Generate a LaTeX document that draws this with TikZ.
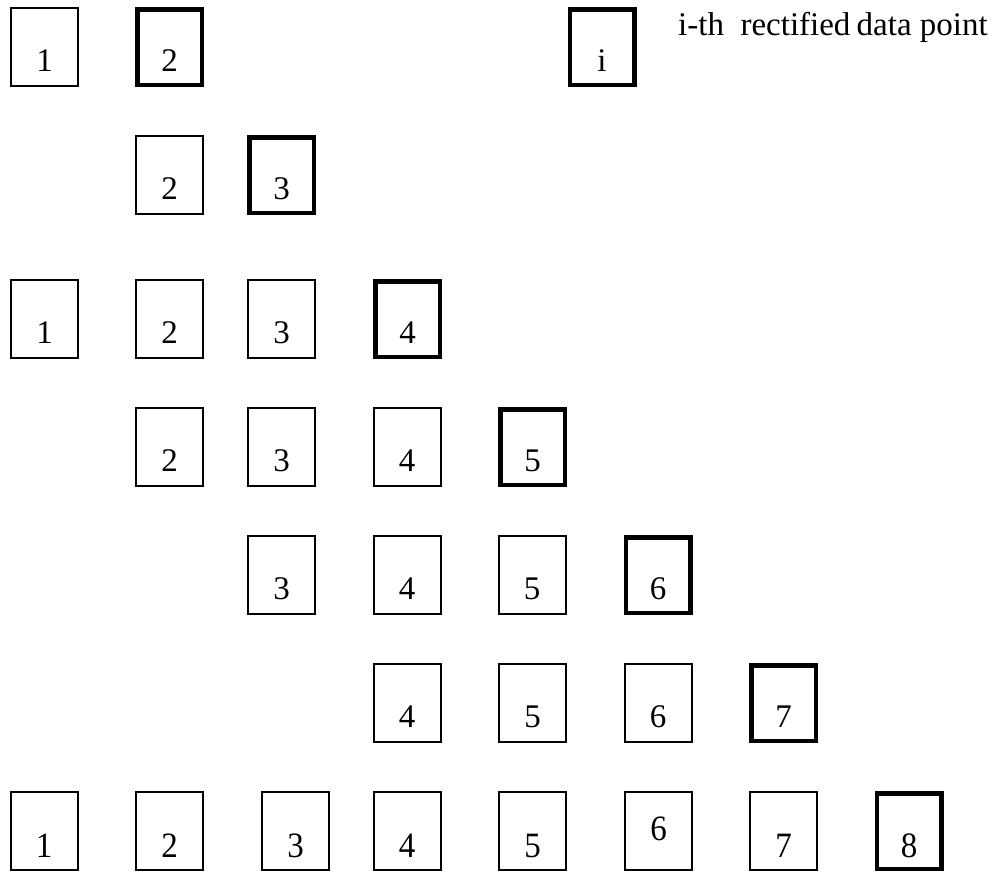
\documentclass[tikz,border=0pt]{standalone}
\usepackage{fontspec}
\setmainfont{Liberation Serif}
\begin{document}
\begin{tikzpicture}[x=1pt,y=-1pt,
  cell/.style={draw, line width=2pt, inner sep=0pt, minimum width=67pt, minimum height=78pt},
  hcell/.style={draw, line width=4.5pt, inner sep=0pt, minimum width=64.5pt, minimum height=75.5pt},
  dig/.style={font=\fontsize{33}{33}\selectfont, anchor=base, inner sep=0pt},
  bdig/.style={dig, yscale=1.08, transform shape},
  legtext/.style={font=\fontsize{33}{33}\selectfont, anchor=base west, inner sep=0pt}]
\useasboundingbox (0,0) rectangle (994,871);
% row 1 (y center 47)
\node[cell]  (r1c1) at (44.5,47) {};  \node[dig] (t1c1) at ([yshift=-24pt]r1c1.center) {1};
\node[hcell] (r1c2) at (169.5,47) {}; \node[dig] (t1c2) at ([yshift=-24pt]r1c2.center) {2};
% legend
\node[hcell] (leg) at (602,47) {}; \node[dig] (tleg) at ([yshift=-24pt]leg.center) {i};
\node[legtext] (legt) at (678,35) {i-th\ \ rectified\hspace{-2pt} data point};
% row 2 (y 175)
\node[cell]  (r2c2) at (169.5,175) {}; \node[dig] (t2c2) at ([yshift=-24pt]r2c2.center) {2};
\node[hcell] (r2c3) at (281.5,175) {}; \node[dig] (t2c3) at ([yshift=-24pt]r2c3.center) {3};
% row 3 (y 319)
\node[cell]  (r3c1) at (44.5,319) {};  \node[dig] (t3c1) at ([yshift=-24pt]r3c1.center) {1};
\node[cell]  (r3c2) at (169.5,319) {}; \node[dig] (t3c2) at ([yshift=-24pt]r3c2.center) {2};
\node[cell]  (r3c3) at (281.5,319) {}; \node[dig] (t3c3) at ([yshift=-24pt]r3c3.center) {3};
\node[hcell] (r3c4) at (407.5,319) {}; \node[dig] (t3c4) at ([yshift=-24pt]r3c4.center) {4};
% row 4 (y 447)
\node[cell]  (r4c2) at (169.5,447) {}; \node[dig] (t4c2) at ([yshift=-24pt]r4c2.center) {2};
\node[cell]  (r4c3) at (281.5,447) {}; \node[dig] (t4c3) at ([yshift=-24pt]r4c3.center) {3};
\node[cell]  (r4c4) at (407,447) {};   \node[dig] (t4c4) at ([yshift=-24pt]r4c4.center) {4};
\node[hcell] (r4c5) at (532.5,447) {}; \node[dig] (t4c5) at ([yshift=-24pt]r4c5.center) {5};
% row 5 (y 575)
\node[cell]  (r5c3) at (281.5,575) {}; \node[dig] (t5c3) at ([yshift=-24pt]r5c3.center) {3};
\node[cell]  (r5c4) at (407,575) {};   \node[dig] (t5c4) at ([yshift=-24pt]r5c4.center) {4};
\node[cell]  (r5c5) at (532,575) {};   \node[dig] (t5c5) at ([yshift=-24pt]r5c5.center) {5};
\node[hcell] (r5c6) at (658,575) {};   \node[dig] (t5c6) at ([yshift=-24pt]r5c6.center) {6};
% row 6 (y 703)
\node[cell]  (r6c4) at (407,703) {};   \node[dig] (t6c4) at ([yshift=-24pt]r6c4.center) {4};
\node[cell]  (r6c5) at (532.5,703) {}; \node[dig] (t6c5) at ([yshift=-24pt]r6c5.center) {5};
\node[cell]  (r6c6) at (658,703) {};   \node[dig] (t6c6) at ([yshift=-24pt]r6c6.center) {6};
\node[hcell] (r6c7) at (783.5,703) {}; \node[dig] (t6c7) at ([yshift=-24pt]r6c7.center) {7};
% row 7 (y 831)
\node[cell]  (r7c1) at (44,831) {};    \node[bdig] (t7c1) at ([yshift=-26pt]r7c1.center) {1};
\node[cell]  (r7c2) at (169.5,831) {}; \node[bdig] (t7c2) at ([yshift=-26pt]r7c2.center) {2};
\node[cell]  (r7c3) at (295.5,831) {}; \node[bdig] (t7c3) at ([yshift=-26pt]r7c3.center) {3};
\node[cell]  (r7c4) at (407,831) {};   \node[bdig] (t7c4) at ([yshift=-26pt]r7c4.center) {4};
\node[cell]  (r7c5) at (532.5,831) {}; \node[bdig] (t7c5) at ([yshift=-26pt]r7c5.center) {5};
\node[cell]  (r7c6) at (658.5,831) {}; \node[bdig] (t7c6) at ([yshift=-9pt]r7c6.center) {6};
\node[cell]  (r7c7) at (783.5,831) {}; \node[bdig] (t7c7) at ([yshift=-26pt]r7c7.center) {7};
\node[hcell] (r7c8) at (909,831) {};   \node[bdig] (t7c8) at ([yshift=-26pt]r7c8.center) {8};
\end{tikzpicture}
\end{document}
